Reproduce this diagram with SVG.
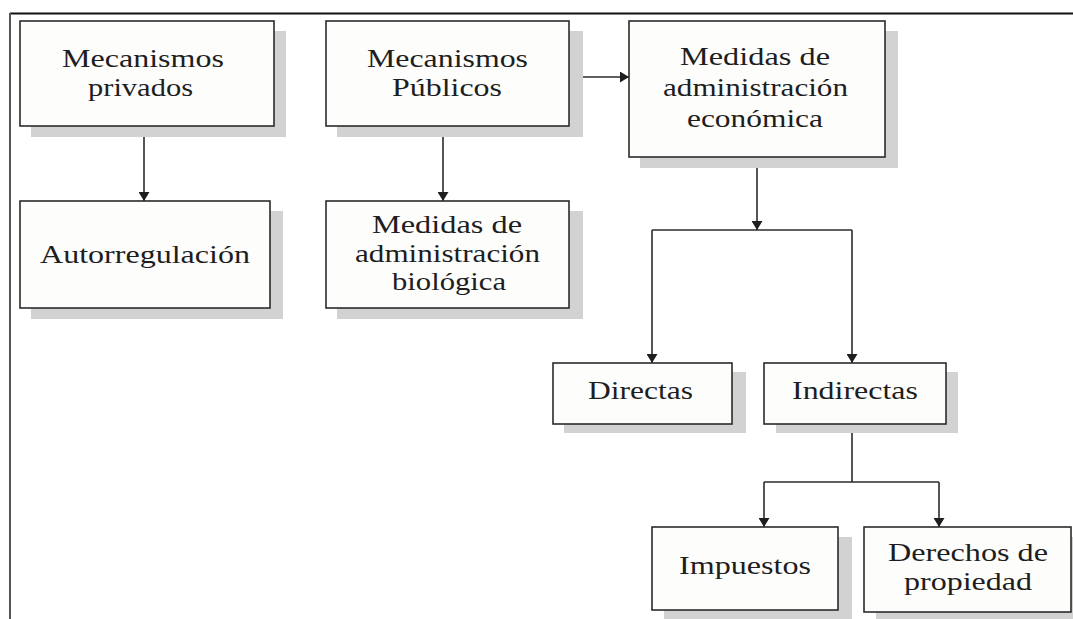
<svg xmlns="http://www.w3.org/2000/svg" width="1073" height="619" viewBox="0 0 1073 619">
  <style>
    .box { fill: #fdfdfc; stroke: #2b2b2b; stroke-width: 1.6; }
    .shadow { fill: #d2d2d2; stroke: none; }
    .lbl { font-family: "Liberation Serif", "Times New Roman", serif; font-size: 26px; fill: #1e1e1e; text-anchor: middle; }
    .conn { fill: none; stroke: #2b2b2b; stroke-width: 1.6; }
  </style>
  <defs>
    <marker id="arr" viewBox="0 0 9 11" markerUnits="userSpaceOnUse" markerWidth="9" markerHeight="11" refX="9" refY="5.5" orient="auto">
      <path d="M0,0 L9,5.5 L0,11 z" fill="#1e1e1e"/>
    </marker>
  </defs>
  <rect width="1073" height="619" fill="#ffffff"/>
  <g id="frame">
    <line x1="10" y1="13.5" x2="1073" y2="13.5" stroke="#111" stroke-width="2"/>
    <line x1="10" y1="13" x2="10" y2="619" stroke="#555" stroke-width="2"/>
  </g>

  <g id="connectors">
    <line class="conn" x1="144" y1="126" x2="144" y2="201" marker-end="url(#arr)"/>
    <line class="conn" x1="443" y1="126" x2="443" y2="201" marker-end="url(#arr)"/>
    <line class="conn" x1="569" y1="77" x2="629" y2="77" marker-end="url(#arr)"/>
    <line class="conn" x1="757" y1="157" x2="757" y2="230" marker-end="url(#arr)"/>
    <line class="conn" x1="652" y1="230" x2="852" y2="230"/>
    <line class="conn" x1="652" y1="230" x2="652" y2="363" marker-end="url(#arr)"/>
    <line class="conn" x1="852" y1="230" x2="852" y2="363" marker-end="url(#arr)"/>
    <line class="conn" x1="852" y1="424" x2="852" y2="482"/>
    <line class="conn" x1="764" y1="482" x2="939" y2="482"/>
    <line class="conn" x1="764" y1="482" x2="764" y2="527" marker-end="url(#arr)"/>
    <line class="conn" x1="939" y1="482" x2="939" y2="527" marker-end="url(#arr)"/>
  </g>

  <g id="n-privados">
    <rect class="shadow" x="31" y="31" width="255" height="106"/>
    <rect class="box" x="20" y="21" width="254" height="105"/>
    <text class="lbl" x="143" y="67" textLength="162" lengthAdjust="spacingAndGlyphs">Mecanismos</text>
    <text class="lbl" x="140.5" y="96" textLength="105" lengthAdjust="spacingAndGlyphs">privados</text>
  </g>
  <g id="n-autorregulacion">
    <rect class="shadow" x="31" y="211" width="252" height="108"/>
    <rect class="box" x="20" y="201" width="250" height="107"/>
    <text class="lbl" x="145" y="263" textLength="210" lengthAdjust="spacingAndGlyphs">Autorregulación</text>
  </g>
  <g id="n-publicos">
    <rect class="shadow" x="337" y="31" width="246" height="106"/>
    <rect class="box" x="326" y="21" width="243" height="105"/>
    <text class="lbl" x="447.5" y="67" textLength="161" lengthAdjust="spacingAndGlyphs">Mecanismos</text>
    <text class="lbl" x="447" y="96" textLength="110" lengthAdjust="spacingAndGlyphs">Públicos</text>
  </g>
  <g id="n-biologica">
    <rect class="shadow" x="337" y="211" width="246" height="108"/>
    <rect class="box" x="326" y="201" width="243" height="107"/>
    <text class="lbl" x="447" y="233" textLength="150" lengthAdjust="spacingAndGlyphs">Medidas de</text>
    <text class="lbl" x="447.5" y="262" textLength="185" lengthAdjust="spacingAndGlyphs">administración</text>
    <text class="lbl" x="449" y="290" textLength="114" lengthAdjust="spacingAndGlyphs">biológica</text>
  </g>
  <g id="n-economica">
    <rect class="shadow" x="640" y="31" width="258" height="137"/>
    <rect class="box" x="629" y="21" width="256" height="136"/>
    <text class="lbl" x="755" y="65" textLength="150" lengthAdjust="spacingAndGlyphs">Medidas de</text>
    <text class="lbl" x="755.5" y="96" textLength="185" lengthAdjust="spacingAndGlyphs">administración</text>
    <text class="lbl" x="755" y="127" textLength="136" lengthAdjust="spacingAndGlyphs">económica</text>
  </g>
  <g id="n-directas">
    <rect class="shadow" x="564" y="372" width="182" height="61"/>
    <rect class="box" x="553" y="363" width="179" height="61"/>
    <text class="lbl" x="640.5" y="399" textLength="105" lengthAdjust="spacingAndGlyphs">Directas</text>
  </g>
  <g id="n-indirectas">
    <rect class="shadow" x="776" y="372" width="182" height="61"/>
    <rect class="box" x="764" y="363" width="182" height="61"/>
    <text class="lbl" x="855" y="399" textLength="126" lengthAdjust="spacingAndGlyphs">Indirectas</text>
  </g>
  <g id="n-impuestos">
    <rect class="shadow" x="664" y="537" width="188" height="84"/>
    <rect class="box" x="652" y="527" width="186" height="83"/>
    <text class="lbl" x="745" y="574" textLength="132" lengthAdjust="spacingAndGlyphs">Impuestos</text>
  </g>
  <g id="n-derechos">
    <rect class="shadow" x="876" y="537" width="210" height="86"/>
    <rect class="box" x="864" y="527" width="207" height="85"/>
    <text class="lbl" x="968" y="561" textLength="160" lengthAdjust="spacingAndGlyphs">Derechos de</text>
    <text class="lbl" x="968" y="590" textLength="128" lengthAdjust="spacingAndGlyphs">propiedad</text>
  </g>
</svg>
